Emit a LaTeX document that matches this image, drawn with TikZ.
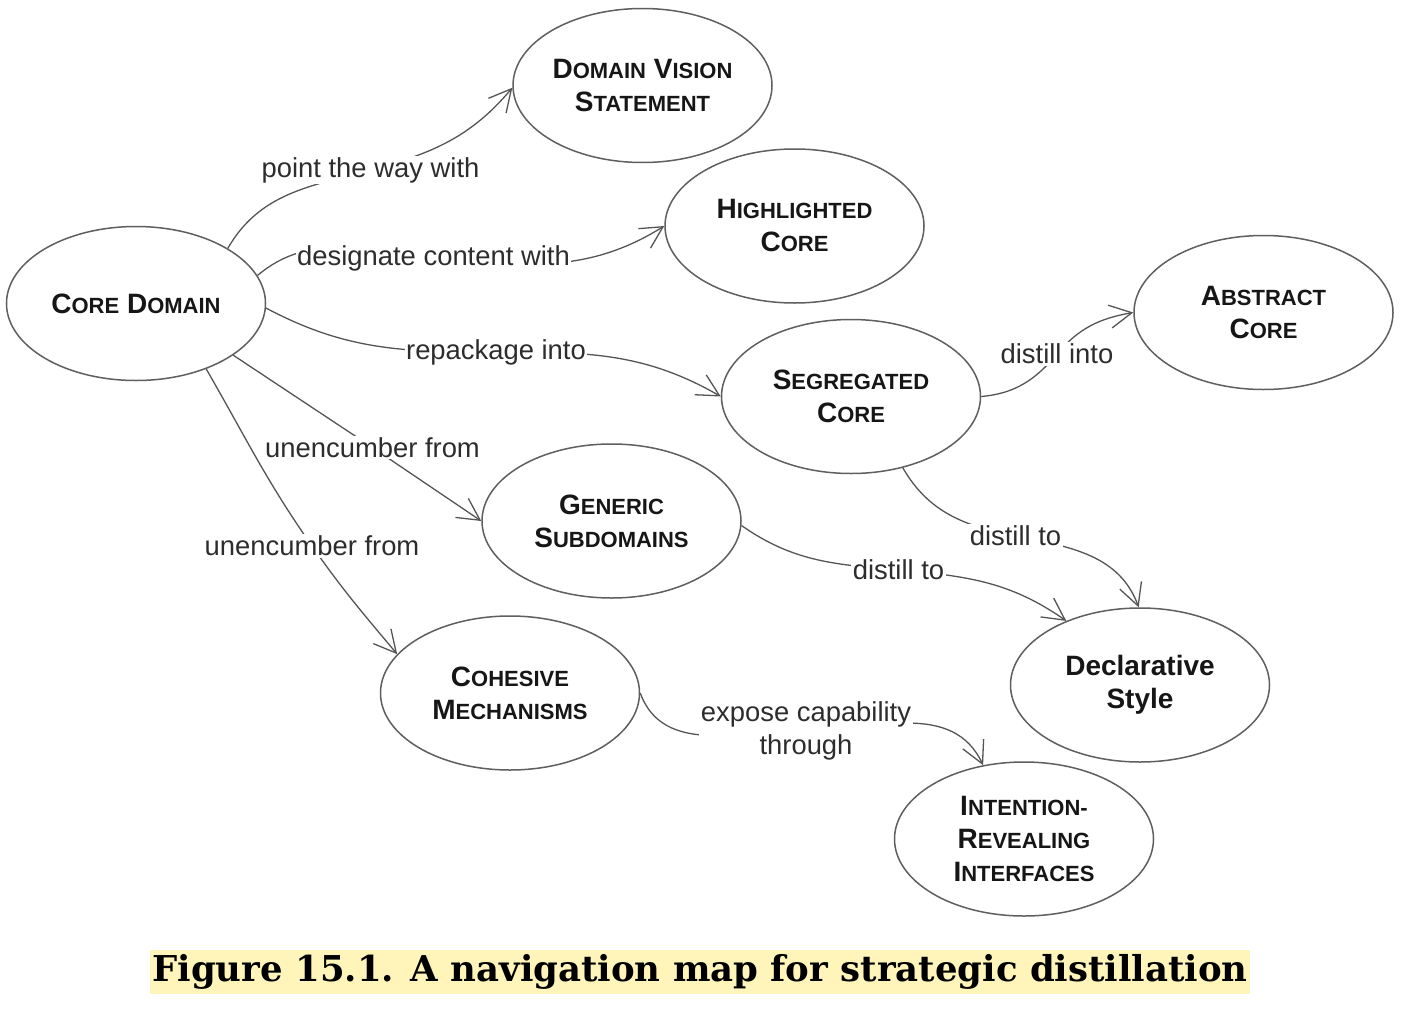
\documentclass[tikz,border=0pt]{standalone}
\usepackage{graphicx}
\usepackage{fontspec}
\setmainfont{Liberation Sans}
\newfontfamily\capfont{DejaVu Serif}
\usetikzlibrary{shapes.geometric,arrows.meta}
\definecolor{linecol}{RGB}{85,85,85}
\definecolor{ellcol}{RGB}{95,95,95}
\definecolor{nodetext}{RGB}{22,22,22}
\definecolor{lbltext}{RGB}{45,45,45}
\definecolor{hilite}{RGB}{255,244,185}
\definecolor{captext}{RGB}{20,20,20}
\newcommand{\kapp}[2]{{\fontsize{14}{16.5}\selectfont #1}{\fontsize{11}{16.5}\selectfont #2}}
\newcommand{\captxt}{\capfont\bfseries\fontsize{17.8}{20}\selectfont Figure 15.1. A navigation map for strategic distillation}
\newlength{\capw}
\newsavebox{\capbox}
\begin{document}
\sbox{\capbox}{\captxt}%
\setlength{\capw}{\wd\capbox}%
\begin{tikzpicture}[x=0.5pt,y=0.5pt,
  ell/.style={ellipse, draw=ellcol, line width=0.75pt, minimum width=129.5pt,
    minimum height=77pt, inner sep=0pt, align=center, text=nodetext,
    font=\bfseries\fontsize{14}{16.5}\selectfont},
  lbl/.style={fill=white, inner sep=0.8pt, align=center, text=lbltext,
    font=\fontsize{13.7}{16.5}\selectfont},
  conn/.style={draw=linecol, line width=0.65pt,
    -{Straight Barb[length=11pt,width=11.5pt]}},
  caption/.style={fill=hilite, inner sep=0pt, minimum width=550pt,
    minimum height=22pt, text=captext}
]
\useasboundingbox[fill=white] (0,0) rectangle (1414,-1028);

% concept ellipses
\node[ell] (dvs)  at (642.5,-85.5)  {\kapp{D}{OMAIN} \kapp{V}{ISION}\\\kapp{S}{TATEMENT}};
\node[ell] (hc)   at (794.5,-226)   {\kapp{H}{IGHLIGHTED}\\\kapp{C}{ORE}};
\node[ell] (core) at (136,-303.5)   {\kapp{C}{ORE} \kapp{D}{OMAIN}};
\node[ell] (abs)  at (1263.5,-312.5){\kapp{A}{BSTRACT}\\\kapp{C}{ORE}};
\node[ell] (seg)  at (851,-396.5)   {\kapp{S}{EGREGATED}\\\kapp{C}{ORE}};
\node[ell] (gen)  at (611.5,-521)   {\kapp{G}{ENERIC}\\\kapp{S}{UBDOMAINS}};
\node[ell] (dec)  at (1140,-685)    {Declarative\\Style};
\node[ell] (coh)  at (510,-693)     {\kapp{C}{OHESIVE}\\\kapp{M}{ECHANISMS}};
\node[ell] (irf)  at (1024,-839)    {\kapp{I}{NTENTION-}\\\kapp{R}{EVEALING}\\\kapp{I}{NTERFACES}};

% label positions
\coordinate (m1) at (370.5,-170);
\coordinate (m2) at (433.5,-258);
\coordinate (m3) at (496,-352);
\coordinate (m4) at (372.5,-447.5);
\coordinate (m5) at (312,-546);
\coordinate (m6) at (1057,-354);
\coordinate (m7) at (1015.5,-536);
\coordinate (m8) at (898.5,-570);
\coordinate (m9) at (806,-731);

% connectors
\draw[conn] (core.31) to[out=60,in=195] (m1) to[out=15,in=230] (dvs.181);
\draw[conn] (core.13) to[out=40,in=175] (m2) to[out=-5,in=212] (hc.180);
\draw[conn] (core.-2) to[out=-28,in=180] (m3) to[out=0,in=150] (seg.180);
\draw[conn] (core.-28) -- (m4) -- (gen.180);
\draw[conn] (core.-43.5) to[out=-60,in=125] (m5) to[out=-55,in=130] (coh.161);
\draw[conn] (seg.0) to[out=5,in=230] (m6) to[out=50,in=190] (abs.180);
\draw[conn] (seg.-54) to[out=-60,in=169] (m7) to[out=-11,in=110] (dec.91.5);
\draw[conn] (gen.-2) to[out=-35,in=175] (m8) to[out=-5,in=145] (dec.139);
\draw[conn] (coh.0) to[out=-70,in=180] (m9) to[out=2,in=115] (irf.119);

% connector labels
\node[lbl] (l1) at (m1) {point the way with};
\node[lbl] (l2) at (m2) {designate content with};
\node[lbl] (l3) at (m3) {repackage into};
\node[lbl] (l4) at (m4) {unencumber from};
\node[lbl] (l5) at (m5) {unencumber from};
\node[lbl] (l6) at (m6) {distill into};
\node[lbl] (l7) at (m7) {distill to};
\node[lbl] (l8) at (m8) {distill to};
\node[lbl] (l9) at (m9) {expose capability\\through};

% caption
\pgfmathsetmacro{\capsx}{547.5/\capw}
\node[caption] (cap) at (700,-972) {\scalebox{\capsx}[1]{\usebox{\capbox}}};
\end{tikzpicture}
\end{document}
